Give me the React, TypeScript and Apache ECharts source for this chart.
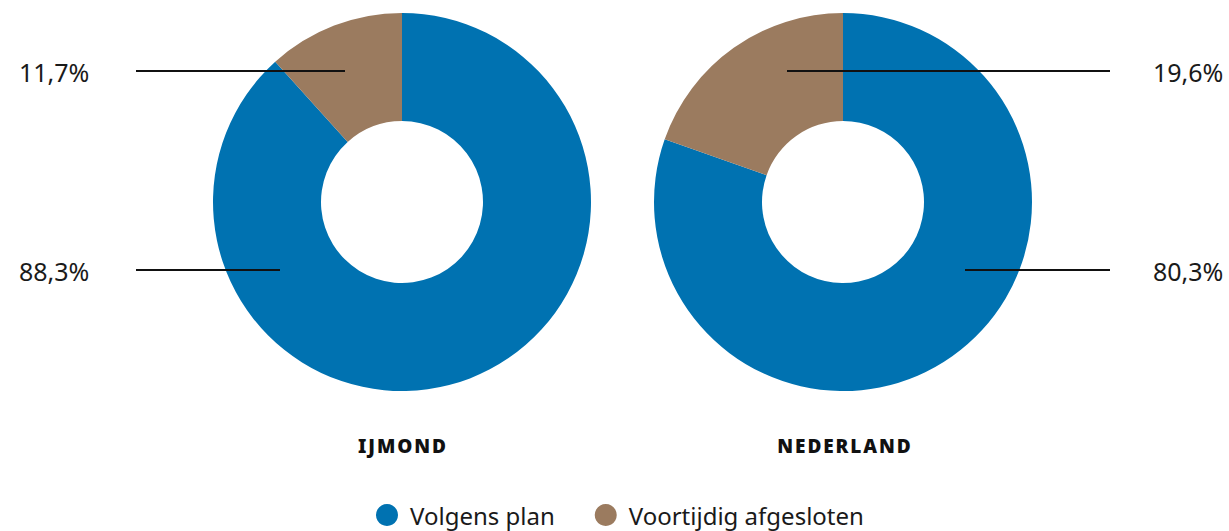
import React, { useEffect, useRef } from "react";
import * as echarts from "echarts";

const categories = ["Volgens plan", "Voortijdig afgesloten"];
const regions = ["IJMOND", "NEDERLAND"];
const ijmondValues = [88.3, 11.7];
const nederlandValues = [80.3, 19.6];
const colors = ["#0072B1", "#9B7B5F"];

const fmt = (v: number) => v.toFixed(1).replace(".", ",") + "%";
const spaced = (s: string) => s.split("").join("\u200A");

// label layout positions [labelX, lineStartX, lineEndX, y]
const layouts: number[][][] = [
  [
    [19, 136, 280, 270],
    [19, 136, 345, 71],
  ],
  [
    [1153, 965, 1110, 270],
    [1153, 787, 1110, 71],
  ],
];

export default function App() {
  const ref = useRef<HTMLDivElement>(null);
  useEffect(() => {
    if (!ref.current) return;
    const chart = echarts.init(ref.current, undefined, { renderer: "svg" });
    const font = "'Noto Sans', sans-serif";
    const base = (idx: number, cx: number) => ({
      type: "pie",
      name: regions[idx],
      center: [cx, 202],
      radius: [81, 189],
      startAngle: 90,
      clockwise: true,
      silent: true,
    });
    const pieSeries = (idx: number, values: number[], cx: number) => ({
      ...base(idx, cx),
      z: 2,
      data: values.map((v, i) => ({
        name: categories[i],
        value: v,
        itemStyle: { color: colors[i] },
      })),
      label: { show: false },
      labelLine: { show: false },
    });
    const labelSeries = (idx: number, values: number[], cx: number) => ({
      ...base(idx, cx),
      z: 5,
      legendHoverLink: false,
      data: values.map((v, i) => ({
        name: categories[i],
        value: v,
        itemStyle: { color: "rgba(0,0,0,0)" },
      })),
      label: {
        show: true,
        formatter: (p: any) => fmt(p.value),
        fontFamily: font,
        fontSize: 25,
        color: "#1a1a1a",
      },
      labelLine: {
        show: true,
        lineStyle: { color: "#111", width: 2 },
      },
      labelLayout: (p: any) => {
        const [lx, x1, x2, y] = layouts[idx][p.dataIndex];
        return {
          x: lx,
          y: y + 1,
          align: "left",
          verticalAlign: "middle",
          labelLinePoints: [
            [x1, y],
            [(x1 + x2) / 2, y],
            [x2, y],
          ],
        };
      },
    });
    const titleStyle = {
      fontFamily: font,
      fontSize: 19,
      fontWeight: 900,
      color: "#111",
    };
    chart.setOption({
      animation: false,
      color: colors,
      title: [
        { text: spaced(regions[0]), left: 397, top: 431, textAlign: "center", textStyle: titleStyle },
        { text: spaced(regions[1]), left: 839, top: 431, textAlign: "center", textStyle: titleStyle },
      ],
      legend: {
        data: categories,
        left: 376,
        top: 502,
        icon: "circle",
        itemWidth: 22,
        itemHeight: 22,
        itemGap: 40,
        padding: 0,
        selectedMode: false,
        textStyle: {
          fontFamily: font,
          fontSize: 24,
          lineHeight: 26,
          color: "#1a1a1a",
          padding: [0, 0, 0, 7],
        },
      },
      series: [
        pieSeries(0, ijmondValues, 402),
        pieSeries(1, nederlandValues, 843),
        labelSeries(0, ijmondValues, 402),
        labelSeries(1, nederlandValues, 843),
      ],
    });
    return () => chart.dispose();
  }, []);
  return (
    <div
      ref={ref}
      style={{ position: "fixed", left: 0, top: 0, width: 1229, height: 531, background: "#fff" }}
    />
  );
}
